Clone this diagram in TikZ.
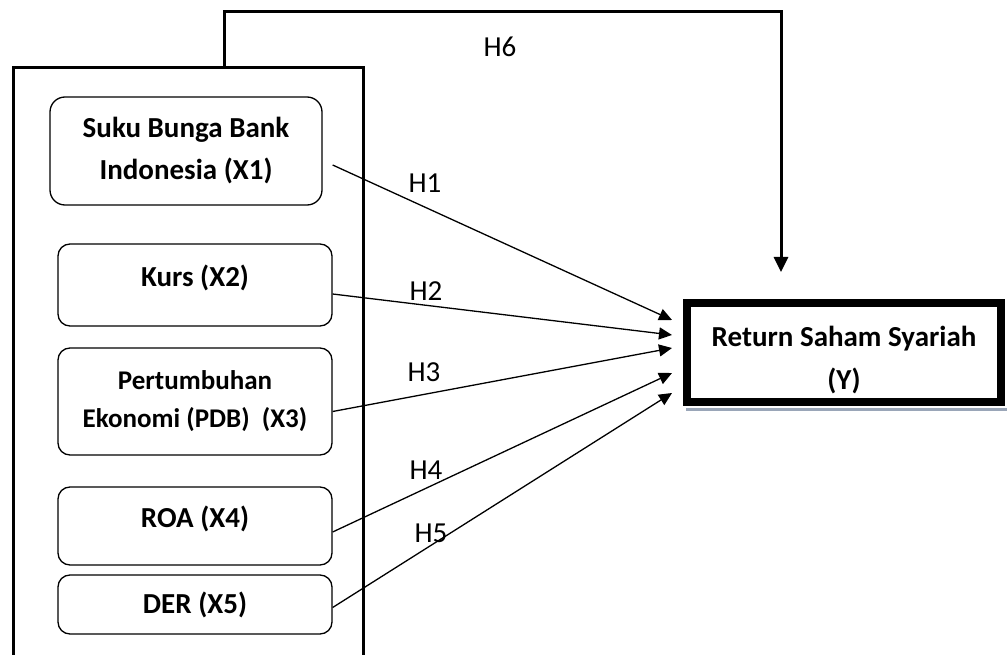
\documentclass[tikz,border=0pt]{standalone}
\usepackage{fontspec}
\setmainfont{Carlito}
\usepackage{xcolor}
\usetikzlibrary{arrows.meta}
\definecolor{shadowgray}{HTML}{9AA6B8}

\begin{document}
\begin{tikzpicture}[x=1pt, y=-1pt, font=\fontsize{29}{42}\selectfont,
  varbox/.style={draw, line width=1.3pt, rounded corners=12pt, minimum width=274pt,
        align=center, font=\fontsize{29}{42}\selectfont\bfseries},
  hyp/.style={line width=1.3pt, -{Triangle[length=13pt, width=12pt]}}]
  \useasboundingbox (0,0) rectangle (1007,655);
  % outer frame
  \draw[line width=3pt] (13,662) -- (13,68) -- (363,68) -- (363,662);
  \node[varbox, minimum width=272pt, minimum height=108pt, rounded corners=15pt] (x1) at (186,151)
        {Suku Bunga Bank\\Indonesia (X1)};
  \node[varbox, minimum height=82pt, text height=22pt, text depth=19pt] (x2) at (195,285) {Kurs (X2)};
  \node[varbox, minimum height=107pt, font=\fontsize{27}{38}\selectfont\bfseries] (x3) at (195,401.5)
        {Pertumbuhan\\Ekonomi (PDB)~ (X3)};
  \node[varbox, minimum height=78pt, text height=22pt, text depth=19pt] (x4) at (195,526) {ROA (X4)};
  \node[varbox, minimum height=59pt] (x5) at (195,604.5) {DER (X5)};
  \node[draw, line width=8pt, minimum width=314pt, minimum height=99pt, align=center,
        text height=78pt, font=\fontsize{29}{43}\selectfont\bfseries] (y) at (844,352.5)
        {Return Saham Syariah\\(Y)};
  \draw[shadowgray, line width=3pt] (686,409) -- (1007,409);
  \coordinate (h6src) at (224,68);
  \coordinate (h6end) at (781,272);
  \draw[line width=3pt, -{Triangle[length=15pt, width=14pt]}] (h6src) -- ++(0,-56) -| (h6end);
  \foreach \src/\sx/\sy/\ty in {x1/10/-14/32.5, x2/0/-9/17.5, x3/0/-10/4.5, x4/0/-6/-20.5, x5/0/-3/-40.5}{
    \draw[hyp] ([xshift=\sx pt, yshift=\sy pt]\src.east) -- ([xshift=-11pt, yshift=\ty pt]y.west);}
  \node (h1) at (425,183) {H1};
  \node (h2) at (426,291) {H2};
  \node (h3) at (424,372) {H3};
  \node (h4) at (426,470) {H4};
  \node (h5) at (431,533) {H5};
  \node (h6) at (500,47) {H6};
\end{tikzpicture}
\end{document}
